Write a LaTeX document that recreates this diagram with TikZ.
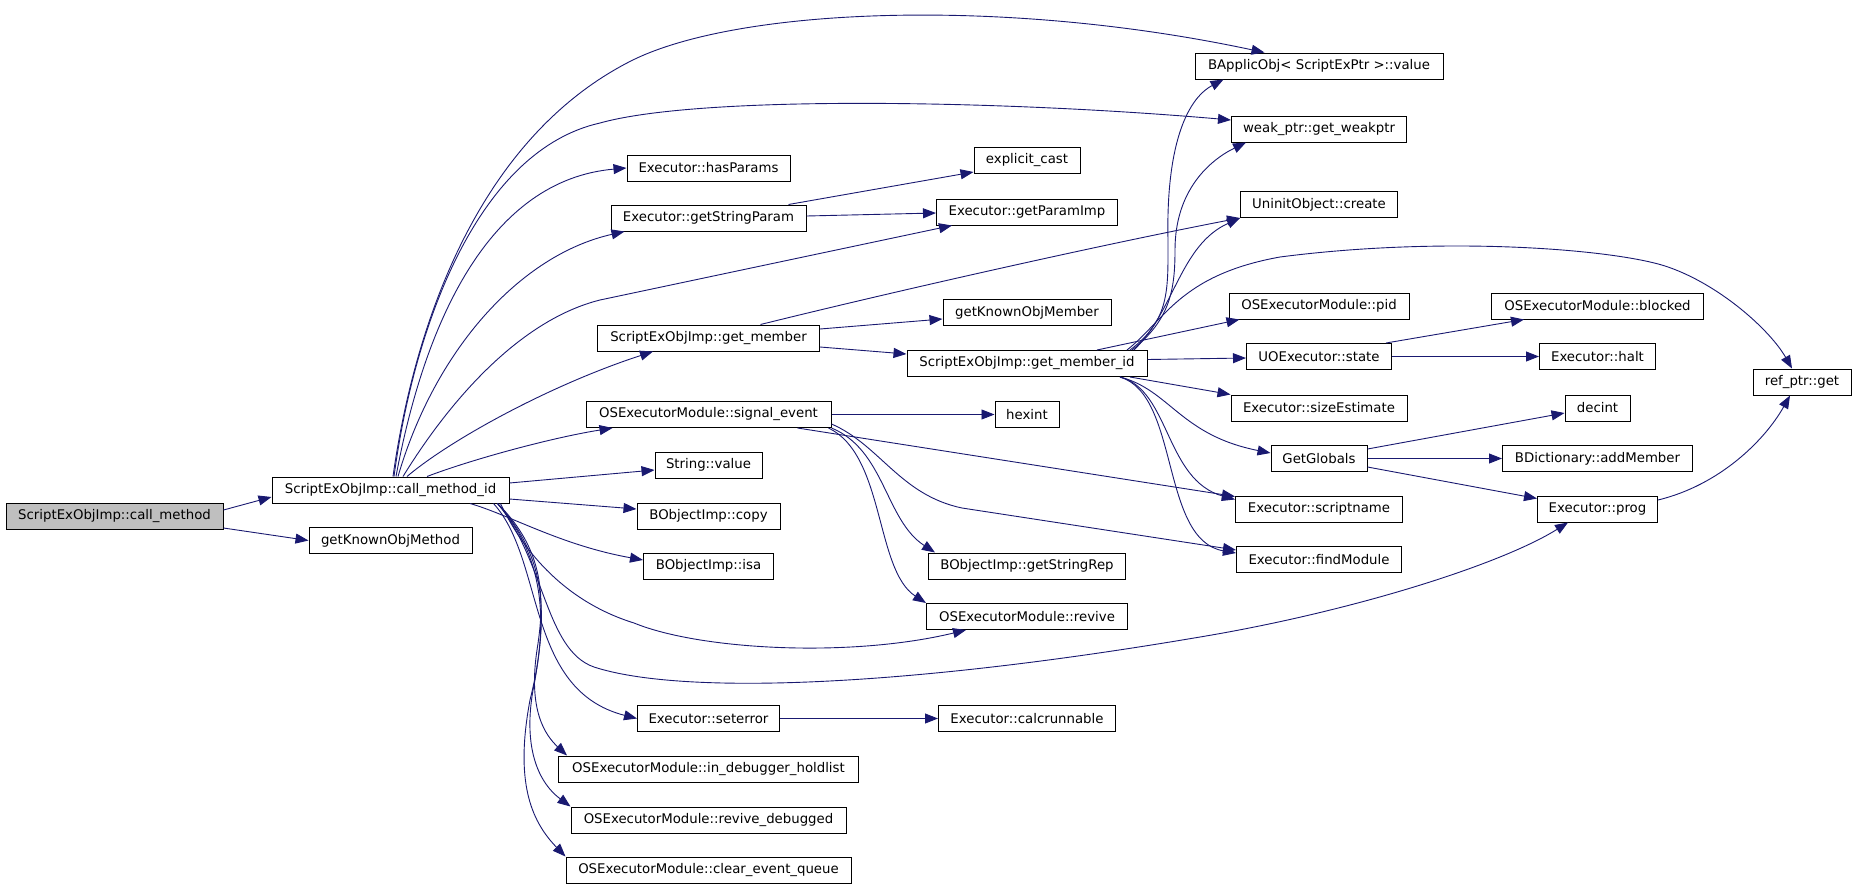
\documentclass[tikz,border=0pt]{standalone}
\usepackage{fontspec}
\setmainfont{DejaVu Sans}
\usetikzlibrary{arrows.meta}
\definecolor{edgeblue}{RGB}{25,25,112}
\tikzset{
  fn/.style={draw, line width=1pt, fill=white, minimum width=#1, minimum height=26pt,
    inner sep=2pt, font=\fontsize{13.3}{16}\selectfont},
  callarrow/.style={draw=edgeblue, line width=0.9pt, -{Triangle[length=13pt,width=10pt]}}
}
\begin{document}
\begin{tikzpicture}[x=1pt,y=-1pt]
\useasboundingbox (0,0) rectangle (1856,889);

% caller and first rank
\node[fn=217, fill=black!25] (callm) at (114.5,516) {ScriptExObjImp::call\_method};
\node[fn=237] (callid) at (390.5,490) {ScriptExObjImp::call\_method\_id};
\node[fn=163] (knownmethod) at (390.5,540.5) {getKnownObjMethod};

% second rank
\node[fn=163] (hasparams) at (708.5,168) {Executor::hasParams};
\node[fn=195] (strparam) at (708.5,218) {Executor::getStringParam};
\node[fn=222] (getmember) at (708.5,338) {ScriptExObjImp::get\_member};
\node[fn=245] (sigevent) at (708.5,414.5) {OSExecutorModule::signal\_event};
\node[fn=107] (strvalue) at (708.5,465) {String::value};
\node[fn=143] (objcopy) at (708.5,516) {BObjectImp::copy};
\node[fn=130] (objisa) at (708.5,566) {BObjectImp::isa};
\node[fn=142] (seterror) at (708.5,718.5) {Executor::seterror};
\node[fn=300] (holdlist) at (708.5,769) {OSExecutorModule::in\_debugger\_holdlist};
\node[fn=275] (revdebug) at (708.5,820) {OSExecutorModule::revive\_debugged};
\node[fn=285] (clearq) at (708.5,870) {OSExecutorModule::clear\_event\_queue};

% third rank
\node[fn=106] (explicitc) at (1027,160.5) {explicit\_cast};
\node[fn=181] (gpi) at (1027,212) {Executor::getParamImp};
\node[fn=168] (knownmember) at (1027,312.5) {getKnownObjMember};
\node[fn=240] (getmemberid) at (1027,363.5) {ScriptExObjImp::get\_member\_id};
\node[fn=64] (hexint) at (1027,414.5) {hexint};
\node[fn=197] (strrep) at (1027,566) {BObjectImp::getStringRep};
\node[fn=201] (revive) at (1027,616.5) {OSExecutorModule::revive};
\node[fn=177] (calcrun) at (1027,718.5) {Executor::calcrunnable};

% fourth rank
\node[fn=248] (bapp) at (1319,66) {BApplicObj< ScriptExPtr >::value};
\node[fn=175] (weak) at (1319,129) {weak\_ptr::get\_weakptr};
\node[fn=157] (uninit) at (1319,204.5) {UninitObject::create};
\node[fn=180] (osepid) at (1319,306) {OSExecutorModule::pid};
\node[fn=145] (uostate) at (1319,356.5) {UOExecutor::state};
\node[fn=176] (sizeest) at (1319,408) {Executor::sizeEstimate};
\node[fn=96] (getglobals) at (1319,458.5) {GetGlobals};
\node[fn=167] (scriptname) at (1319,509) {Executor::scriptname};
\node[fn=165] (findmod) at (1319,559.5) {Executor::findModule};

% fifth and sixth rank
\node[fn=212] (blocked) at (1597.5,306) {OSExecutorModule::blocked};
\node[fn=116] (halt) at (1597.5,356.5) {Executor::halt};
\node[fn=65] (decint) at (1597.5,408) {decint};
\node[fn=190] (addmember) at (1597.5,458.5) {BDictionary::addMember};
\node[fn=120] (prog) at (1597.5,509) {Executor::prog};
\node[fn=98] (refget) at (1802,382) {ref\_ptr::get};

% from call_method
\draw[callarrow] ([yshift=6pt]callm.east) -- ([yshift=-7pt]callid.west);
\draw[callarrow] ([yshift=-12pt]callm.east) -- (knownmethod.west);

% call_method_id, upward fan
\draw[callarrow] ([xshift=2.5pt]callid.north) .. controls (415,320) and (480,140) .. (627,63)
  .. controls (730,8) and (1000,-4) .. ([xshift=70pt]bapp.north west);
\draw[callarrow] ([xshift=3.5pt]callid.north) .. controls (415,320) and (480,150) .. (600,123)
  .. controls (700,95) and (1000,100) .. ([yshift=9pt]weak.west);
\draw[callarrow] ([xshift=5.5pt]callid.north) .. controls (425,320) and (490,180) .. (hasparams.west);
\draw[callarrow] ([xshift=7.5pt]callid.north) .. controls (435,350) and (520,255) .. ([xshift=14pt]strparam.south west);
\draw[callarrow] ([xshift=12.5pt]callid.north) .. controls (450,400) and (520,320) .. (600,300)
  -- ([xshift=16pt]gpi.south west);
\draw[callarrow] ([xshift=16.5pt]callid.north) .. controls (450,440) and (550,385) .. ([xshift=56pt]getmember.south west);
\draw[callarrow] ([xshift=36.5pt]callid.north) .. controls (470,460) and (550,438) .. ([xshift=27pt]sigevent.south west);
\draw[callarrow] ([yshift=7pt]callid.east) -- ([yshift=-5pt]strvalue.west);
\draw[callarrow] ([yshift=-9pt]callid.east) -- ([yshift=7pt]objcopy.west);
\draw[callarrow] ([xshift=79.5pt]callid.south) .. controls (510,515) and (560,545) .. ([yshift=6pt]objisa.west);

% call_method_id, downward fan
\draw[callarrow] ([xshift=-9pt]callid.south east) .. controls (520,545) and (560,600) .. (634,623)
  .. controls (700,650) and (850,658) .. ([xshift=40pt]revive.south west);
\draw[callarrow] ([xshift=-12pt]callid.south east) .. controls (545,560) and (545,650) .. (594,667)
  .. controls (680,695) and (900,688) .. (1200,637)
  .. controls (1350,612) and (1500,565) .. ([xshift=31pt]prog.south west);
\draw[callarrow] ([xshift=-16pt]callid.south east) .. controls (545,560) and (525,690) .. (seterror.west);
\draw[callarrow] ([xshift=-12pt]callid.south east) .. controls (545,550) and (545,600) .. (537,650)
  .. controls (528,710) and (545,735) .. ([xshift=9pt]holdlist.north west);
\draw[callarrow] ([xshift=-12pt]callid.south east) .. controls (550,560) and (545,620) .. (535,680)
  .. controls (522,740) and (535,780) .. (revdebug.north west);
\draw[callarrow] ([xshift=-12pt]callid.south east) .. controls (552,565) and (545,640) .. (530,700)
  .. controls (515,780) and (530,820) .. (clearq.north west);

% second rank calls
\draw[callarrow] ([xshift=-18pt]strparam.north east) -- ([yshift=2pt]explicitc.south west);
\draw[callarrow] ([yshift=2pt]strparam.east) -- ([yshift=-1pt]gpi.west);
\draw[callarrow] ([yshift=9pt]getmember.east) -- ([yshift=-6.5pt]knownmember.west);
\draw[callarrow] ([yshift=-9pt]getmember.east) -- ([yshift=9.5pt]getmemberid.west);
\draw[callarrow] ([xshift=52pt]getmember.north) .. controls (900,290) and (1100,245) .. (uninit.south west);
\draw[callarrow] (sigevent.east) -- (hexint.west);
\draw[callarrow] ([xshift=-34pt]sigevent.south east) -- ([yshift=-1pt]scriptname.north west);
\draw[callarrow] ([yshift=4pt]sigevent.south east) .. controls (880,445) and (900,495) .. (962,508)
  -- ([yshift=-4pt]findmod.north west);
\draw[callarrow] (sigevent.south east) .. controls (885,450) and (885,520) .. ([xshift=7pt]strrep.north west);
\draw[callarrow] ([xshift=-3pt]sigevent.south east) .. controls (885,455) and (875,570) .. (revive.north west);
\draw[callarrow] (seterror.east) -- (calcrun.west);

% get_member_id calls
\draw[callarrow] ([xshift=103pt]getmemberid.north) .. controls (1170,320) and (1168,290) .. (1168,240)
  .. controls (1166,150) and (1185,100) .. ([xshift=29pt]bapp.south west);
\draw[callarrow] ([xshift=105pt]getmemberid.north) .. controls (1170,320) and (1175,290) .. (1175,250)
  .. controls (1175,190) and (1210,160) .. ([xshift=15pt]weak.south west);
\draw[callarrow] ([xshift=107pt]getmemberid.north) .. controls (1175,310) and (1180,245) .. (uninit.south west);
\draw[callarrow] ([xshift=100pt]getmemberid.north) .. controls (1165,320) and (1180,275) .. (1280,257)
  .. controls (1450,235) and (1620,250) .. (1668,267)
  .. controls (1720,285) and (1770,330) .. ([xshift=-10pt]refget.north);
\draw[callarrow] ([xshift=70pt]getmemberid.north) -- ([xshift=11pt]osepid.south west);
\draw[callarrow] ([yshift=4pt]getmemberid.east) -- ([yshift=-1.5pt]uostate.west);
\draw[callarrow] ([xshift=103pt]getmemberid.south) -- (sizeest.north west);
\draw[callarrow] ([xshift=93pt]getmemberid.south) .. controls (1170,390) and (1180,435) .. ([yshift=5.5pt]getglobals.west);
\draw[callarrow] ([xshift=93pt]getmemberid.south) .. controls (1170,390) and (1165,480) .. ([yshift=-4pt]scriptname.north west);
\draw[callarrow] ([xshift=93pt]getmemberid.south) .. controls (1180,395) and (1160,540) .. ([yshift=-7pt]findmod.north west);

% fourth rank calls
\draw[callarrow] ([xshift=-6pt]uostate.north east) -- ([xshift=33pt]blocked.south west);
\draw[callarrow] (uostate.east) -- (halt.west);
\draw[callarrow] ([yshift=9.5pt]getglobals.east) -- ([yshift=-5pt]decint.west);
\draw[callarrow] (getglobals.east) -- (addmember.west);
\draw[callarrow] ([yshift=-8.5pt]getglobals.east) -- ([yshift=-3pt]prog.north west);
\draw[callarrow] ([yshift=9pt]prog.east) .. controls (1720,485) and (1765,440) .. ([xshift=-12pt]refget.south);
\end{tikzpicture}
\end{document}
